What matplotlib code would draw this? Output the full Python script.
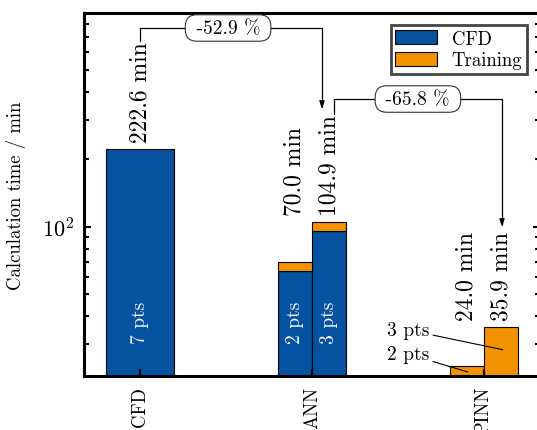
import numpy as np
import matplotlib
matplotlib.use('Agg')
import matplotlib.pyplot as plt
import matplotlib.transforms as mtransforms
from matplotlib.ticker import NullFormatter

# データ（単位: min）
categories = ['CFD', 'ANN', 'PINN']
cfd_time = [222.6]
ann_cfd_time = [63.6, 95.4]
ann_train_time = [6.4, 9.5]
pinn_train_time = [24.0, 35.9]
cfd_pts = ['7 pts']
ann_pts = ['2 pts', '3 pts']
pinn_pts = ['2 pts', '3 pts']

blue = '#0452A0'
orange = '#F39200'

plt.rcParams.update({
    'font.family': ['cmr10', 'DejaVu Serif'],
    'mathtext.fontset': 'cm',
    'axes.formatter.use_mathtext': True,
    'axes.unicode_minus': False,
})

fig = plt.figure(figsize=(5.37, 4.31), dpi=100)
ax = fig.add_axes([84 / 537, 1 - 377 / 431, 456 / 537, 363 / 431])
ax.set_yscale('log')

w = 0.2
x = np.arange(len(categories))
bar_kw = dict(edgecolor='black', linewidth=0.8)

ann_x = x[1] + np.array([-w / 2, w / 2])
pinn_x = x[2] + np.array([-w / 2, w / 2])
ann_total = [c + t for c, t in zip(ann_cfd_time, ann_train_time)]

ax.bar(x[0], cfd_time, width=2 * w, color=blue, label='CFD', **bar_kw)
ax.bar(ann_x, ann_cfd_time, width=w, color=blue, **bar_kw)
ax.bar(ann_x, ann_train_time, bottom=ann_cfd_time, width=w, color=orange,
       label='Training', **bar_kw)
ax.bar(pinn_x, pinn_train_time, width=w, color=orange, **bar_kw)

ax.set_xlim(-0.326, 2.326)
ax.set_ylim(21.6, 900)

# 棒の上の時間ラベル
groups = [([x[0]], cfd_time), (ann_x, ann_total), (pinn_x, pinn_train_time)]
for xs, vals in groups:
    top = max(vals)
    for xi, v in zip(xs, vals):
        ax.annotate(f'{v:.1f} min', xy=(xi, top), xytext=(0, 5),
                    textcoords='offset points', rotation=90,
                    ha='center', va='bottom', fontsize=17)

# 棒の中の点数ラベル
for xi, s in zip([x[0]], cfd_pts):
    ax.text(xi, 37.5, s, rotation=90, ha='center', va='center',
            color='white', fontsize=14)
for xi, s in zip(ann_x, ann_pts):
    ax.text(xi, 37.5, s, rotation=90, ha='center', va='center',
            color='white', fontsize=14)

# PINN の点数ラベル（引き出し線）
ax.annotate(pinn_pts[1], xy=(pinn_x[1] + 0.01, 28.3), xytext=(1.68, 34.7),
            ha='right', va='center', fontsize=14,
            arrowprops=dict(arrowstyle='-', lw=0.8, color='black',
                            shrinkA=1, shrinkB=0))
ax.annotate(pinn_pts[0], xy=(pinn_x[0] + 0.007, 22.5), xytext=(1.68, 27.1),
            ha='right', va='center', fontsize=14,
            arrowprops=dict(arrowstyle='-', lw=0.8, color='black',
                            shrinkA=1, shrinkB=0))

# 削減率
p1 = (ann_total[1] - cfd_time[0]) / cfd_time[0] * 100
p2 = (pinn_train_time[1] - ann_total[1]) / ann_total[1] * 100
trans = mtransforms.blended_transform_factory(ax.transData, ax.transAxes)
box = dict(boxstyle='round,pad=0.22,rounding_size=0.6', fc='white',
           ec='#333333', lw=0.8)


def bracket(text, x_from, y_from, x_box, y_box, x_to, y_to):
    ax.annotate(f' {text} ', xy=(x_from, y_from), xycoords=trans,
                xytext=(x_box, y_box), textcoords=trans,
                ha='center', va='center', fontsize=14, bbox=box, zorder=6,
                arrowprops=dict(arrowstyle='-', lw=0.9, color='black',
                                connectionstyle='angle,angleA=0,angleB=90,rad=0',
                                shrinkA=0, shrinkB=0))
    ax.annotate('', xy=(x_to, y_to), xycoords=trans,
                xytext=(x_box, y_box), textcoords=trans, zorder=5,
                arrowprops=dict(arrowstyle='-|>,head_length=0.45,head_width=0.15',
                                lw=0.9, color='black',
                                connectionstyle='angle,angleA=0,angleB=90,rad=0',
                                shrinkA=0, shrinkB=0))


bracket(f'{p1:.1f} %', x[0], 0.923, 0.512, 0.9587, ann_x[1] - 0.042, 0.7355)
bracket(f'{p2:.1f} %', ann_x[1] + 0.028, 0.7218, 1.616, 0.763,
        pinn_x[1] + 0.005, 0.4105)

# 軸
ax.set_xticks(x)
ax.set_xticklabels(categories)
ax.yaxis.set_minor_formatter(NullFormatter())
ax.tick_params(which='both', direction='in', left=True, right=True,
               top=False, bottom=True, width=1.5)
ax.tick_params(which='major', length=5, pad=7)
ax.tick_params(axis='x', labelsize=13.5, rotation=90)
ax.tick_params(axis='y', labelsize=16)
ax.tick_params(which='minor', length=3.5)
for sp in ax.spines.values():
    sp.set_linewidth(2.2)
ax.set_ylabel('Calculation time / min', fontsize=13.5)
ax.yaxis.set_label_coords(-0.127, 0.5)

leg = ax.legend(loc='upper right', bbox_to_anchor=(527 / 537, 1 - 26 / 431),
                bbox_transform=fig.transFigure, borderaxespad=0,
                fancybox=False, edgecolor='#444444', framealpha=1,
                fontsize=13.5, handlelength=2.2, handleheight=0.8,
                handletextpad=0.8, borderpad=0.25, labelspacing=0.2)
leg.get_frame().set_linewidth(2)

fig.savefig('out.png', dpi=100)
plt.close()
